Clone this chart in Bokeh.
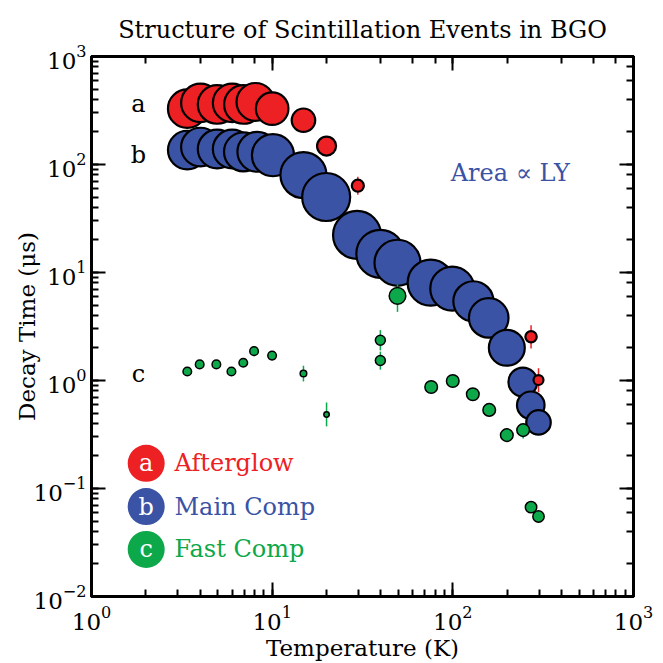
from bokeh.plotting import figure
from bokeh.models import LogAxis, ColumnDataSource, LogTicker, CustomJSTickFormatter
from bokeh.core.properties import value
from bokeh.embed import file_html
from bokeh.resources import INLINE
import numpy as np

# ---------------- data ----------------
# (a) Afterglow
temp_a = [3.39, 4.01, 4.96, 6.01, 6.94, 8.08, 10.0, 14.9, 20.0, 29.8, 271, 298]
tau_a = [329, 372, 360, 372, 360, 380, 329, 257, 148, 63.6, 2.54, 1.01]
lo_a = [329, 372, 360, 372, 360, 380, 329, 257, 148, 52.5, 1.98, 0.78]
hi_a = [329, 372, 360, 372, 360, 380, 329, 257, 148, 77.0, 3.25, 1.30]
ly_a = [65, 65, 65, 65, 65, 62, 46, 24, 15.7, 6.3, 5.6, 4.3]

# (b) Main component
temp_b = [3.39, 4.01, 4.96, 6.01, 6.94, 8.28, 10.1, 14.9, 19.9, 29.5,
          39.7, 49.4, 75.4, 99.3, 130, 158, 199, 244, 270, 298]
tau_b = [136, 145, 139, 139, 131, 131, 122, 79.8, 50.0, 22.3,
         14.9, 12.3, 8.05, 7.09, 5.41, 3.80, 2.01, 0.969, 0.590, 0.409]
ly_b = [65, 65, 65, 65, 66, 69, 77, 92, 100, 100,
        100, 92, 92, 84, 70, 68, 56, 36, 33, 26]

# (c) Fast component
temp_c = [3.39, 3.97, 4.91, 5.95, 6.92, 7.94, 9.99, 14.9, 20.0, 39.7,
          39.7, 49.4, 75.9, 99.9, 129, 159, 199, 245, 271, 298]
tau_c = [1.21, 1.41, 1.41, 1.21, 1.46, 1.87, 1.70, 1.16, 0.485, 2.36,
         1.53, 6.07, 0.871, 0.989, 0.746, 0.534, 0.312, 0.347, 0.0672, 0.0551]
lo_c = [1.21, 1.41, 1.41, 1.21, 1.38, 1.68, 1.70, 0.98, 0.376, 1.90,
        1.26, 4.32, 0.871, 0.989, 0.746, 0.534, 0.312, 0.29, 0.0672, 0.0551]
hi_c = [1.21, 1.41, 1.41, 1.21, 1.55, 2.08, 1.70, 1.37, 0.626, 2.93,
        1.85, 7.77, 0.871, 0.989, 0.746, 0.534, 0.312, 0.36, 0.0672, 0.0551]
ly_c = [3.2, 3.2, 3.2, 3.2, 3.2, 3.2, 3.2, 1.9, 1.27, 4.3,
        4.3, 12, 6.9, 6.9, 6.9, 6.9, 6.9, 6.9, 5.6, 5.6]

series_letters = ["a", "b", "c"]
legend_labels = ["Afterglow", "Main Comp", "Fast Comp"]
x_label = "Temperature (K)"
y_label = "Decay Time (\u03bcs)"
title_text = "Structure of Scintillation Events in BGO"
note_text = "Area \u221d LY"

# ---------------- style ----------------
FONT = "DejaVu Serif"
RED = "#ED2024"
BLUE = "#3A53A4"
GREEN = "#0CA84A"
SIZE_K = 4.8  # marker diameter (px) per sqrt(LY)

# layout anchors (data coordinates of annotations)
letter_x = 1.82
letter_y = [360, 122, 1.14]
leg_x = 2.008
leg_text_x = 2.88
leg_y = [0.171, 0.068, 0.0273]
note_x, note_y = 208, 83.3

p = figure(width=663, height=663, x_axis_type="log", y_axis_type="log",
           x_range=(1, 1000), y_range=(0.01, 1000),
           output_backend="svg", toolbar_location=None,
           min_border_left=91, min_border_right=30,
           min_border_top=56, min_border_bottom=65)

p.xgrid.visible = False
p.ygrid.visible = False
p.outline_line_color = "black"
p.outline_line_width = 3
p.background_fill_color = "white"
p.border_fill_color = "white"

p.title.text = title_text
p.title.align = "center"
p.title.text_font = FONT
p.title.text_font_size = "24px"
p.title.text_font_style = "normal"
p.title.text_color = "black"
p.title.standoff = 26

def style_axis(ax):
    ax.axis_line_width = 3
    ax.axis_line_color = "black"
    ax.major_tick_in = 14
    ax.major_tick_out = 0
    ax.minor_tick_in = 7
    ax.minor_tick_out = 0
    ax.major_tick_line_width = 2
    ax.minor_tick_line_width = 2
    ax.major_label_text_font = FONT
    ax.major_label_text_color = "black"
    ax.major_label_text_font_size = "23px"
    ax.axis_label_text_font = FONT
    ax.axis_label_text_font_style = "normal"
    ax.axis_label_text_color = "black"
    ax.axis_label_text_font_size = "23px"

style_axis(p.xaxis[0])
style_axis(p.yaxis[0])
p.xaxis[0].axis_label = x_label
p.yaxis[0].axis_label = y_label
p.xaxis[0].major_label_standoff = 9
p.yaxis[0].major_label_standoff = 5
p.xaxis[0].axis_label_standoff = 2
p.yaxis[0].axis_label_standoff = -9

top = LogAxis(ticker=LogTicker(), formatter=CustomJSTickFormatter(code="return ''"))
right = LogAxis(ticker=LogTicker(), formatter=CustomJSTickFormatter(code="return ''"))
style_axis(top)
style_axis(right)
for ax in (top, right):
    ax.major_label_text_font_size = "1px"
    ax.major_label_standoff = 0
p.add_layout(top, "above")
p.add_layout(right, "right")

def sizes(ly):
    return [SIZE_K * np.sqrt(v) for v in ly]

src_a = ColumnDataSource(dict(x=temp_a, y=tau_a, lo=lo_a, hi=hi_a, s=sizes(ly_a)))
src_b = ColumnDataSource(dict(x=temp_b, y=tau_b, s=sizes(ly_b)))
src_c = ColumnDataSource(dict(x=temp_c, y=tau_c, lo=lo_c, hi=hi_c, s=sizes(ly_c)))

# main component (drawn first, underneath)
p.scatter("x", "y", size="s", source=src_b, fill_color=BLUE,
          line_color="black", line_width=2.2)
# afterglow
p.segment(x0="x", y0="lo", x1="x", y1="hi", source=src_a, line_color=RED, line_width=1.5)
p.scatter("x", "y", size="s", source=src_a, fill_color=RED,
          line_color="black", line_width=2.2)
# fast component
p.segment(x0="x", y0="lo", x1="x", y1="hi", source=src_c, line_color=GREEN, line_width=1.5)
p.scatter("x", "y", size="s", source=src_c, fill_color=GREEN,
          line_color="black", line_width=1.5)

# series letters
p.text(x=[letter_x] * 3, y=letter_y, text=series_letters,
       text_font=value(FONT), text_font_size="24px", text_color="black",
       text_align="center", text_baseline="middle")

# note
p.text(x=[note_x], y=[note_y], text=[note_text], text_font=value(FONT),
       text_font_size="24px", text_color=BLUE, text_align="center",
       text_baseline="middle")

# legend (manual)
leg_colors = [RED, BLUE, GREEN]
p.scatter(x=[leg_x] * 3, y=leg_y, size=37, fill_color=leg_colors, line_color=None)
p.text(x=[leg_x] * 3, y=leg_y, text=series_letters, text_font=value(FONT),
       text_font_size="24px", text_color="white", text_align="center",
       text_baseline="middle")
p.text(x=[leg_text_x] * 3, y=leg_y, text=legend_labels, text_font=value(FONT),
       text_font_size="24px", text_color=leg_colors, text_align="left",
       text_baseline="middle")

open("out.html", "w").write(file_html(p, INLINE))
